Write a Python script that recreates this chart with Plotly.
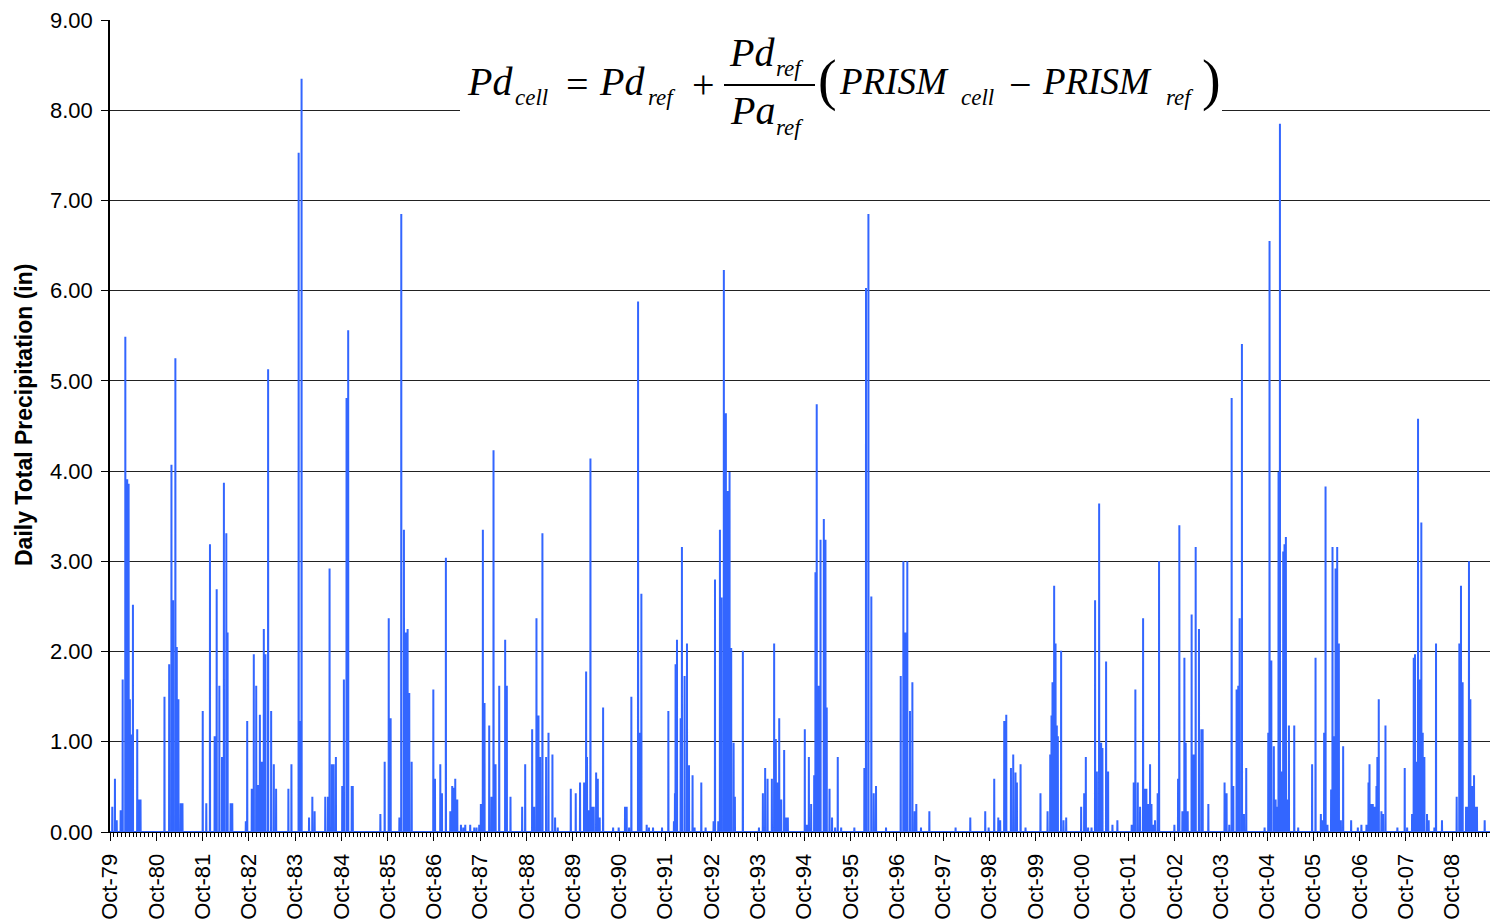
import numpy as np
import pandas as pd
import plotly.graph_objects as go

# ---------------- data ----------------
# Daily series: dry days are 0.00 in; wet-day events listed below as
# (decimal year of the event, daily total precipitation in inches).
series_start = "1979-10-01"
series_end = "2009-09-30"

event_year = [
    1979.800, 1979.858, 1979.894, 1979.980, 1980.023, 1980.080, 1980.123, 1980.152, 1980.181, 1980.217,
    1980.245, 1980.339, 1980.382, 1980.410, 1980.927, 1981.028, 1981.078, 1981.114, 1981.164, 1981.193,
    1981.229, 1981.279, 1981.315, 1981.753, 1981.832, 1981.911, 1982.011, 1982.054, 1982.112, 1982.169,
    1982.212, 1982.263, 1982.291, 1982.356, 1982.392, 1982.686, 1982.715, 1982.815, 1982.858, 1982.909,
    1982.950, 1982.988, 1983.031, 1983.074, 1983.110, 1983.167, 1983.232, 1983.289, 1983.339, 1983.605,
    1983.670, 1983.828, 1983.863, 1983.890, 1984.050, 1984.122, 1984.172, 1984.402, 1984.459, 1984.495,
    1984.545, 1984.581, 1984.632, 1984.768, 1984.804, 1984.861, 1984.897, 1984.973, 1984.995, 1985.592,
    1985.685, 1985.772, 1985.815, 1986.002, 1986.045, 1986.103, 1986.146, 1986.182, 1986.218, 1986.268,
    1986.736, 1986.772, 1986.887, 1986.923, 1987.009, 1987.103, 1987.146, 1987.174, 1987.210, 1987.254,
    1987.333, 1987.383, 1987.426, 1987.534, 1987.621, 1987.671, 1987.728, 1987.764, 1987.808, 1987.844,
    1987.944, 1987.995, 1988.038, 1988.081, 1988.160, 1988.290, 1988.326, 1988.405, 1988.656, 1988.721,
    1988.872, 1988.915, 1988.966, 1989.009, 1989.045, 1989.095, 1989.174, 1989.225, 1989.311, 1989.369,
    1989.426, 1989.707, 1989.815, 1989.908, 1989.995, 1990.038, 1990.059, 1990.095, 1990.131, 1990.174,
    1990.203, 1990.254, 1990.290, 1990.333, 1990.405, 1990.621, 1990.743, 1990.879, 1990.915, 1990.966,
    1991.016, 1991.160, 1991.203, 1991.232, 1991.347, 1991.397, 1991.484, 1991.678, 1991.815, 1991.937,
    1991.959, 1991.973, 1992.002, 1992.081, 1992.110, 1992.167, 1992.218, 1992.261, 1992.340, 1992.383,
    1992.527, 1992.621, 1992.793, 1992.822, 1992.894, 1992.930, 1992.966, 1993.016, 1993.059, 1993.103,
    1993.138, 1993.174, 1993.225, 1993.254, 1993.426, 1993.772, 1993.858, 1993.908, 1993.959, 1994.052,
    1994.103, 1994.138, 1994.174, 1994.210, 1994.254, 1994.318, 1994.362, 1994.397, 1994.764, 1994.808,
    1994.851, 1994.901, 1994.966, 1994.995, 1995.023, 1995.059, 1995.103, 1995.174, 1995.210, 1995.239,
    1995.297, 1995.354, 1995.419, 1995.477, 1995.549, 1995.836, 1996.052, 1996.088, 1996.138, 1996.203,
    1996.254, 1996.304, 1996.520, 1996.836, 1996.894, 1996.937, 1996.980, 1997.038, 1997.088, 1997.138,
    1997.174, 1997.275, 1997.455, 1998.023, 1998.340, 1998.664, 1998.736, 1998.858, 1998.944, 1998.987,
    1999.074, 1999.117, 1999.218, 1999.268, 1999.318, 1999.347, 1999.426, 1999.534, 1999.858, 2000.009,
    2000.067, 2000.095, 2000.117, 2000.153, 2000.182, 2000.210, 2000.232, 2000.304, 2000.354, 2000.412,
    2000.736, 2000.800, 2000.836, 2000.887, 2000.959, 2001.038, 2001.074, 2001.124, 2001.167, 2001.196,
    2001.275, 2001.318, 2001.412, 2001.520, 2001.829, 2001.872, 2001.908, 2001.959, 2002.009, 2002.074,
    2002.110, 2002.146, 2002.189, 2002.225, 2002.254, 2002.297, 2002.333, 2002.390, 2002.419, 2002.750,
    2002.829, 2002.858, 2002.923, 2002.966, 2002.995, 2003.038, 2003.124, 2003.167, 2003.210, 2003.282,
    2003.333, 2003.362, 2003.484, 2003.836, 2003.879, 2003.937, 2003.987, 2004.023, 2004.095, 2004.131,
    2004.160, 2004.210, 2004.254, 2004.304, 2004.700, 2004.779, 2004.808, 2004.844, 2004.901, 2004.937,
    2004.973, 2005.002, 2005.031, 2005.074, 2005.103, 2005.131, 2005.160, 2005.196, 2005.225, 2005.340,
    2005.426, 2005.728, 2005.800, 2005.915, 2005.959, 2005.987, 2006.016, 2006.059, 2006.138, 2006.167,
    2006.203, 2006.232, 2006.268, 2006.304, 2006.347, 2006.397, 2006.570, 2006.714, 2006.793, 2006.901,
    2006.944, 2006.966, 2007.009, 2007.038, 2007.081, 2007.117, 2007.138, 2007.167, 2007.225, 2007.261,
    2007.311, 2007.570, 2007.728, 2007.779, 2007.887, 2007.923, 2007.951, 2007.980, 2008.016, 2008.052,
    2008.088, 2008.117, 2008.153, 2008.210, 2008.246, 2008.369, 2008.405, 2008.534, 2008.851, 2008.908,
    2008.944, 2008.980, 2009.052, 2009.095, 2009.117, 2009.146, 2009.182, 2009.225, 2009.261, 2009.290,
    2009.455,
]

event_inches = [
    0.28, 0.59, 0.13, 0.24, 1.69, 5.49, 3.91, 3.86, 1.47, 1.08,
    2.52, 1.14, 0.36, 0.36, 1.50, 1.86, 4.07, 2.57, 5.25, 2.05,
    1.47, 0.32, 0.32, 1.34, 0.32, 3.19, 1.06, 2.69, 1.62, 0.83,
    3.87, 3.31, 2.21, 0.32, 0.32, 0.12, 1.23, 0.48, 1.97, 1.62,
    0.52, 1.30, 0.78, 2.25, 1.97, 5.13, 1.34, 0.75, 0.48, 0.48,
    0.75, 7.53, 1.23, 8.35, 0.16, 0.39, 0.23, 0.39, 0.39, 2.92,
    0.75, 0.75, 0.83, 0.51, 1.69, 4.81, 5.56, 0.51, 0.51, 0.20,
    0.78, 2.37, 1.26, 0.16, 6.85, 3.35, 2.21, 2.25, 1.54, 0.78,
    1.58, 0.59, 0.75, 0.43, 3.04, 0.23, 0.51, 0.49, 0.59, 0.36,
    0.08, 0.05, 0.08, 0.08, 0.05, 0.05, 0.08, 0.31, 3.35, 1.43,
    1.18, 0.39, 4.23, 0.75, 1.62, 2.13, 1.62, 0.39, 0.28, 0.75,
    1.14, 0.28, 2.37, 1.29, 0.83, 3.31, 0.83, 1.10, 0.86, 0.16,
    0.05, 0.48, 0.43, 0.55, 0.55, 1.78, 0.83, 0.24, 4.14, 0.28,
    0.28, 0.66, 0.59, 0.16, 1.38, 0.05, 0.05, 0.28, 0.28, 0.05,
    1.50, 5.88, 1.10, 2.64, 0.08, 0.05, 0.05, 0.05, 1.34, 0.12,
    0.43, 1.86, 2.13, 1.26, 3.16, 1.73, 2.09, 0.74, 0.63, 0.05,
    0.55, 0.05, 0.12, 2.80, 0.12, 3.35, 2.60, 6.23, 4.64, 3.78,
    3.99, 2.04, 0.99, 0.39, 2.01, 0.05, 0.43, 0.71, 0.59, 0.59,
    2.09, 1.03, 0.55, 1.26, 0.36, 0.91, 0.16, 0.16, 1.14, 0.08,
    0.83, 0.31, 0.63, 2.88, 4.74, 1.62, 3.24, 3.47, 3.24, 1.38,
    0.48, 0.16, 0.05, 0.83, 0.05, 0.05, 0.71, 6.03, 6.85, 2.61,
    0.43, 0.51, 0.05, 1.73, 3.00, 2.21, 3.00, 1.34, 1.66, 0.23,
    0.31, 0.05, 0.23, 0.05, 0.16, 0.23, 0.05, 0.59, 0.16, 0.13,
    1.23, 1.30, 0.71, 0.86, 0.66, 0.55, 0.75, 0.05, 0.43, 0.23,
    0.86, 1.29, 1.66, 2.73, 2.09, 1.18, 1.06, 2.01, 0.13, 0.16,
    0.28, 0.43, 0.83, 0.05, 0.05, 2.57, 0.67, 3.64, 0.99, 0.93,
    1.89, 0.67, 0.08, 0.13, 0.08, 0.55, 1.58, 0.55, 0.28, 2.37,
    0.48, 0.48, 0.31, 0.75, 0.31, 0.08, 0.13, 0.43, 3.00, 0.08,
    0.59, 3.40, 0.23, 1.93, 0.99, 0.23, 2.41, 0.86, 3.16, 2.25,
    1.14, 1.14, 0.31, 0.55, 0.43, 0.08, 4.81, 0.51, 1.58, 1.62,
    2.37, 5.41, 0.20, 0.71, 0.05, 1.10, 6.55, 1.90, 0.95, 0.36,
    0.28, 3.99, 7.85, 0.67, 3.11, 3.19, 3.27, 0.36, 1.18, 1.18,
    0.05, 0.75, 1.93, 0.20, 0.13, 1.10, 3.83, 0.08, 0.47, 3.16,
    1.06, 2.92, 3.16, 2.09, 0.13, 0.95, 0.13, 0.05, 0.08, 0.08,
    0.55, 0.75, 0.31, 0.31, 0.28, 0.51, 0.83, 1.47, 0.23, 0.20,
    1.18, 0.05, 0.71, 0.05, 0.20, 1.93, 1.97, 0.78, 4.58, 1.69,
    3.43, 1.10, 0.83, 0.20, 0.13, 0.05, 2.09, 0.13, 0.39, 2.09,
    2.73, 1.66, 0.28, 0.28, 3.00, 1.47, 0.51, 0.63, 0.28, 0.28,
    0.13,
]

y_tick_values = [0, 1, 2, 3, 4, 5, 6, 7, 8, 9]
y_title = "Daily Total Precipitation (in)"

# ---------------- build the daily series ----------------
start = pd.Timestamp(series_start)
days = pd.date_range(start, pd.Timestamp(series_end), freq="D")
precip = np.zeros(len(days))
for yr, val in zip(event_year, event_inches):
    i = int(round((yr - 1979.75) * 365.25))
    if 0 <= i < len(precip):
        precip[i] = max(precip[i], val)

# ---------------- figure ----------------
W, H = 1491, 920
ML, MR, MT, MB = 110, 1, 20, 88
PW, PH = W - ML - MR, H - MT - MB


def px(x):
    return (x - ML) / PW


def py(y):
    return (MT + PH - y) / PH


BLUE = "#3366FF"
FONT = "Liberation Sans, Arial, sans-serif"
SERIF = "Liberation Serif, Times New Roman, serif"

fig = go.Figure()
fig.add_trace(go.Scatter(
    x=days, y=precip, mode="lines",
    line=dict(color=BLUE, width=2, simplify=False),
    showlegend=False, hoverinfo="x+y",
))

fig.update_layout(
    width=W, height=H,
    margin=dict(l=ML, r=MR, t=MT, b=MB, pad=0),
    paper_bgcolor="white", plot_bgcolor="white",
    font=dict(family=FONT, size=22, color="black"),
    showlegend=False,
)

fig.update_xaxes(
    type="date",
    range=["1979-10-01", "2009-07-27"],
    tick0="1979-10-01", dtick="M12", tickformat="%b-%y",
    tickangle=-90, ticks="outside", ticklen=8, tickwidth=1, tickcolor="black",
    tickfont=dict(family=FONT, size=22, color="black"),
    showgrid=False, showline=True, linecolor="black", linewidth=1,
    zeroline=False,
    minor=dict(ticks="outside", ticklen=4, tickwidth=1, tickcolor="black",
               dtick="M1", tick0="1979-10-01", showgrid=False),
    ticklabelstandoff=4,
)

fig.update_yaxes(
    range=[0, 9], tickvals=y_tick_values, tickformat=".2f",
    ticks="outside", ticklen=7, tickwidth=1, tickcolor="black",
    tickfont=dict(family=FONT, size=22, color="black"),
    showgrid=True, gridcolor="#222222", gridwidth=1.2,
    showline=True, linecolor="black", linewidth=1.5,
    zeroline=False, ticklabelstandoff=4,
)

# y axis title
fig.add_annotation(
    text=f"<b>{y_title}</b>", textangle=-90,
    xref="paper", yref="paper", x=px(24), y=py(415),
    xanchor="center", yanchor="middle", showarrow=False,
    font=dict(family=FONT, size=23, color="black"),
)

# white box behind the equation (interrupts the 8.00 gridline)
fig.add_shape(type="rect", xref="paper", yref="paper",
              x0=px(460), x1=px(1222), y0=py(150), y1=py(32),
              fillcolor="white", line=dict(width=0), layer="above")
# fraction bar
fig.add_shape(type="line", xref="paper", yref="paper",
              x0=px(724), x1=px(815), y0=py(85), y1=py(85),
              line=dict(color="black", width=2), layer="above")

eq_parts = [
    ("<i>Pd</i>", 490, 81, 40),
    ("<i>cell</i>", 531, 97, 23),
    ("=", 577, 84, 40),
    ("<i>Pd</i>", 622, 81, 40),
    ("<i>ref</i>", 662, 97, 23),
    ("+", 703, 84, 40),
    ("<i>Pd</i>", 752, 53, 40),
    ("<i>ref</i>", 790, 69, 23),
    ("<i>Pa</i>", 752, 111, 40),
    ("<i>ref</i>", 790, 127, 23),
    ("(", 828, 80, 56),
    ("<i>PRISM</i>", 894, 81, 37),
    ("<i>cell</i>", 977, 97, 23),
    ("\u2212", 1020, 84, 40),
    ("<i>PRISM</i>", 1097, 81, 37),
    ("<i>ref</i>", 1180, 97, 23),
    (")", 1211, 80, 56),
]
for txt, x, y, s in eq_parts:
    fig.add_annotation(
        text=txt, xref="paper", yref="paper", x=px(x), y=py(y),
        xanchor="center", yanchor="middle", showarrow=False,
        font=dict(family=SERIF, size=s, color="black"),
    )

fig.write_html(
    "out.html",
    config={"displayModeBar": False},
    post_script="document.body.style.margin='0';document.body.style.overflow='hidden';",
)
